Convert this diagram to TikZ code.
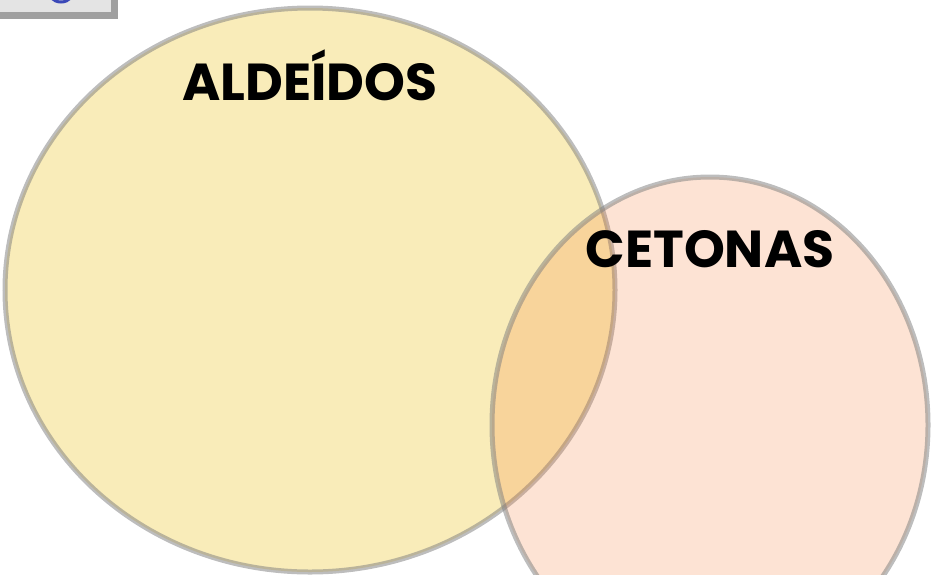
\documentclass[tikz,border=0pt]{standalone}
\usepackage{fontspec}
\setmainfont{Poppins}
\definecolor{aldfill}{HTML}{EBC016}
\definecolor{cetfill}{HTML}{F57328}
\definecolor{ringgray}{HTML}{808080}
\definecolor{boxfill}{HTML}{E4E4E4}
\definecolor{boxedge}{HTML}{A0A0A0}
\definecolor{iconblue}{HTML}{3A48B8}
\tikzset{
  setbox/.style={draw=ringgray, draw opacity=0.52, line width=5pt},
  setlabel/.style={font=\bfseries\fontsize{52}{52}\selectfont, text=black, inner sep=0pt, anchor=base}
}
\begin{document}
\begin{tikzpicture}[x=1pt,y=-1pt]
\useasboundingbox (0,0) rectangle (942,574);
\begin{scope}
\clip (0,0) rectangle (942,574);
% top-left partial box
\draw[fill=boxfill, draw=boxedge, line width=7pt] (-10,-10) rectangle (114.5,15.5);
\draw[iconblue, line width=3pt] (61,-12) circle (14);
% sets
\path[setbox, fill=aldfill, fill opacity=0.3] (310,290) ellipse [x radius=305, y radius=282];
\path[setbox, fill=cetfill, fill opacity=0.2] (710,425) ellipse [x radius=218, y radius=248];
\end{scope}
\node[setlabel] (ald) at (310,100) {ALDEÍDOS};
\node[setlabel] (cet) at (710,267) {CETONAS};
\end{tikzpicture}
\end{document}
